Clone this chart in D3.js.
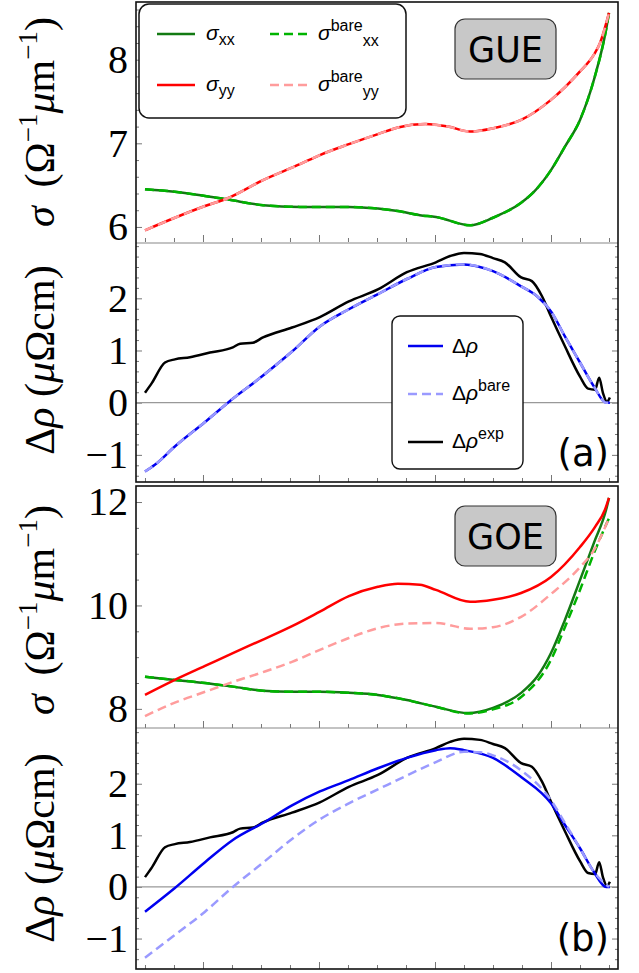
<!DOCTYPE html>
<html>
<head>
<meta charset="utf-8">
<script src="https://cdn.jsdelivr.net/npm/d3@7"></script>
<style>
html, body { margin: 0; padding: 0; background: #fff; }
svg { display: block; }
.serif { font-family: 'Liberation Serif', 'Times New Roman', 'DejaVu Serif', serif; }
</style>
</head>
<body>
<svg id="chart" width="639" height="973"></svg>
<script>
'use strict';

// x positions of the bottom ticks (no labels in the original)
const xTicks = d3.range(0, 17);
const xMajor = [2, 6, 10, 14];

// (a) GUE, conductivities
const sxxGUE = [[0,6.45],[1.03,6.42],[2.07,6.37],[2.83,6.33],[4.07,6.26],[5.34,6.24],[6.03,6.24],[7.03,6.24],[8.03,6.22],[8.72,6.19],[9.48,6.14],[10.03,6.12],[11.21,6.02],[12.0,6.11],[12.97,6.29],[13.41,6.42],[14.0,6.68],[14.48,6.96],[15.0,7.28],[15.48,7.76],[15.9,8.36],[16.0,8.56]];
const syyGUE = [[0,5.96],[1.03,6.11],[2.07,6.25],[2.83,6.34],[4.07,6.56],[5.34,6.75],[6.03,6.86],[7.03,6.99],[8.03,7.11],[8.72,7.19],[9.66,7.23],[10.45,7.20],[11.21,7.14],[12.0,7.18],[12.97,7.28],[14.0,7.52],[15.0,7.86],[15.48,8.06],[15.69,8.2],[16.0,8.56]];
const sbxxGUE = sxxGUE;
const sbyyGUE = syyGUE;

// (a) GUE, resistivity change
const drhoGUE = [[0,-1.32],[0.34,-1.19],[1.03,-0.84],[2.07,-0.37],[2.86,0.0],[4.07,0.52],[5.07,0.98],[6.03,1.46],[7.03,1.79],[8.03,2.08],[9.03,2.37],[10.03,2.60],[11.0,2.65],[12.0,2.52],[12.97,2.23],[13.52,2.04],[14.0,1.75],[14.48,1.27],[15.0,0.77],[15.48,0.31],[15.9,0.0],[16.03,0.0]];
const drhoBareGUE = drhoGUE;
const drhoExp = [[0,0.19],[0.24,0.38],[0.69,0.77],[1.03,0.83],[1.55,0.87],[2.24,0.96],[3.03,1.06],[3.28,1.13],[3.72,1.15],[4.07,1.25],[5.07,1.44],[6.03,1.64],[7.03,1.94],[8.03,2.17],[9.03,2.50],[10.03,2.69],[10.52,2.81],[11.0,2.87],[11.55,2.85],[12.0,2.77],[12.41,2.69],[12.97,2.40],[13.34,2.33],[13.69,2.04],[14.0,1.65],[14.48,1.08],[15.0,0.50],[15.28,0.27],[15.52,0.25],[15.66,0.48],[15.79,0.19],[15.93,0.02],[16.03,0.1]];

// (b) GOE, conductivities
const sxxGOE = [[0,8.62],[1.03,8.56],[2.07,8.50],[3.03,8.43],[4.07,8.35],[5.07,8.33],[6.03,8.33],[7.03,8.31],[8.03,8.27],[9.03,8.17],[10.03,8.04],[11.14,7.92],[12.0,8.02],[12.97,8.31],[13.52,8.62],[14.0,9.08],[14.48,9.72],[15.0,10.49],[15.48,11.21],[15.9,11.85],[16.0,12.08]];
const syyGOE = [[0,8.27],[1.03,8.56],[2.07,8.83],[3.03,9.08],[4.07,9.34],[5.07,9.60],[6.03,9.88],[7.03,10.18],[8.03,10.36],[8.72,10.42],[9.48,10.40],[10.03,10.30],[11.21,10.07],[12.0,10.11],[12.97,10.24],[14.0,10.55],[15.0,11.13],[15.52,11.52],[15.86,11.85],[16.0,12.08]];
const sbxxGOE = [[0,8.62],[1.03,8.56],[2.07,8.50],[3.03,8.43],[4.07,8.35],[5.07,8.33],[6.03,8.33],[7.03,8.31],[8.03,8.27],[9.03,8.17],[10.03,8.04],[11.14,7.91],[12.0,7.99],[12.97,8.23],[14.0,8.95],[14.48,9.58],[15.0,10.30],[15.48,11.01],[16.0,11.69]];
const sbyyGOE = [[0,7.86],[1.03,8.12],[2.07,8.33],[3.03,8.52],[4.07,8.71],[5.07,8.91],[6.03,9.14],[7.03,9.37],[8.03,9.56],[9.03,9.65],[10.03,9.66],[11.21,9.55],[12.0,9.58],[12.97,9.78],[14.0,10.22],[15.0,10.74],[15.48,11.07],[16.0,11.69]];

// (b) GOE, resistivity change
const drhoGOE = [[0,-0.48],[1.03,-0.02],[2.07,0.48],[3.03,0.91],[4.07,1.24],[5.07,1.58],[6.03,1.85],[7.03,2.07],[8.03,2.30],[9.03,2.50],[10.03,2.65],[10.52,2.69],[11.0,2.65],[12.0,2.50],[12.97,2.13],[14.0,1.62],[14.48,1.20],[15.0,0.75],[15.48,0.29],[15.9,0.0],[16.03,0.0]];
const drhoBareGOE = [[0,-1.37],[1.03,-0.93],[2.07,-0.48],[3.03,0.0],[4.07,0.47],[5.07,0.93],[6.03,1.31],[7.03,1.62],[8.03,1.89],[9.03,2.16],[10.03,2.42],[11.0,2.62],[11.55,2.61],[12.0,2.55],[12.97,2.26],[14.0,1.68],[14.48,1.24],[15.0,0.75],[15.48,0.29],[16.0,0.0]];

// y tick labels per panel
const sigmaTicksA = [6, 7, 8];
const sigmaTicksB = [8, 10, 12];
const rhoTicks = [-1, 0, 1, 2];

const svg = d3.select('#chart');
const sans = "'Liberation Sans', Arial, sans-serif";
const round = "'DejaVu Sans', sans-serif";

const x = d3.scaleLinear().domain([-0.31, 16.31]).range([136, 618]);

const green = '#137a13', greenBare = '#00b400';
const red = '#ff0000', redBare = '#ff9c9c';
const blue = '#0000f0', blueBare = '#9a9aff';
const dash = '9,5';

function drawLine(y, data, color, dashes) {
    svg.append('path')
        .datum(data)
        .attr('fill', 'none')
        .attr('stroke', color)
        .attr('stroke-width', 2.5)
        .attr('stroke-linejoin', 'round')
        .attr('stroke-dasharray', dashes || null)
        .attr('d', d3.line().x(d => x(d[0])).y(d => y(d[1])).curve(d3.curveMonotoneX));
}

function styleTicks(g) {
    g.select('.domain').remove();
    g.selectAll('.tick line').attr('stroke', '#777').attr('stroke-width', 1);
}

// ticks and labels for one panel
function drawAxes(y, bottom, labels, minorStep, rightTicks, zeroLine) {
    const [lo, hi] = y.domain();
    const minors = d3.range(Math.ceil(lo / minorStep) * minorStep, hi, minorStep)
        .filter(v => !labels.some(l => Math.abs(l - v) < 1e-6));

    svg.append('g').attr('transform', `translate(0,${bottom})`)
        .call(d3.axisBottom(x).tickValues(xTicks.filter(v => !xMajor.includes(v))).tickSize(-4).tickFormat(''))
        .call(styleTicks);
    svg.append('g').attr('transform', `translate(0,${bottom})`)
        .call(d3.axisBottom(x).tickValues(xMajor).tickSize(-7).tickFormat(''))
        .call(styleTicks);

    svg.append('g').attr('transform', 'translate(136,0)')
        .call(d3.axisLeft(y).tickValues(minors).tickSize(-3).tickFormat(''))
        .call(styleTicks);
    const gl = svg.append('g').attr('transform', 'translate(136,0)')
        .call(d3.axisLeft(y).tickValues(labels).tickSize(-6).tickPadding(8).tickFormat(d => d < 0 ? '\u2212' + Math.abs(d) : d))
        .call(styleTicks);
    gl.attr('font-family', null).attr('font-size', null);
    gl.selectAll('text')
        .attr('class', 'serif')
        .style('font-size', '40px')
        .attr('fill', '#000');

    if (rightTicks) {
        svg.append('g').attr('transform', 'translate(618,0)')
            .call(d3.axisRight(y).tickValues(minors).tickSize(-3).tickFormat(''))
            .call(styleTicks);
        svg.append('g').attr('transform', 'translate(618,0)')
            .call(d3.axisRight(y).tickValues(labels).tickSize(-6).tickFormat(''))
            .call(styleTicks);
    }
    if (zeroLine) {
        svg.append('line')
            .attr('x1', 136).attr('x2', 618)
            .attr('y1', y(0)).attr('y2', y(0))
            .attr('stroke', '#999').attr('stroke-width', 1.2);
    }
}

function sigmaLabel(cy) {
    const t = svg.append('text')
        .attr('class', 'serif')
        .attr('transform', `translate(54,${cy}) rotate(-90)`)
        .attr('text-anchor', 'middle')
        .style('font-size', '42px');
    t.append('tspan').attr('font-style', 'italic').text('\u03c3');
    t.append('tspan').text('\u2009 (\u03a9');
    t.append('tspan').style('font-size', '27px').attr('dy', -17).text('\u22121');
    t.append('tspan').attr('dy', 17).attr('font-style', 'italic').text('\u03bc');
    t.append('tspan').text('m');
    t.append('tspan').style('font-size', '27px').attr('dy', -17).text('\u22121');
    t.append('tspan').attr('dy', 17).text(')');
}

function rhoLabel(cy) {
    const t = svg.append('text')
        .attr('class', 'serif')
        .attr('transform', `translate(54,${cy}) rotate(-90)`)
        .attr('text-anchor', 'middle')
        .style('font-size', '42px');
    t.append('tspan').text('\u0394');
    t.append('tspan').attr('font-style', 'italic').text('\u03c1');
    t.append('tspan').text(' (');
    t.append('tspan').attr('font-style', 'italic').text('\u03bc');
    t.append('tspan').text('\u03a9cm)');
}

function ensembleBox(label, bx, by) {
    svg.append('rect')
        .attr('x', bx).attr('y', by).attr('width', 101).attr('height', 60).attr('rx', 10)
        .attr('fill', '#c8c8c8').attr('stroke', '#333').attr('stroke-width', 1.2);
    svg.append('text')
        .attr('x', bx + 50.5).attr('y', by + 43)
        .attr('text-anchor', 'middle')
        .attr('font-family', round)
        .attr('font-size', 35)
        .text(label);
}

function panelTag(label, ty) {
    svg.append('text')
        .attr('x', 609).attr('y', ty)
        .attr('text-anchor', 'end')
        .attr('font-family', round)
        .attr('font-size', 37)
        .text(label);
}

function legendLine(x1, x2, ly, color, dashes) {
    svg.append('line')
        .attr('x1', x1).attr('x2', x2).attr('y1', ly).attr('y2', ly)
        .attr('stroke', color).attr('stroke-width', 2.5)
        .attr('stroke-dasharray', dashes || null);
}

function sigmaEntry(tx, ty, sub, bare) {
    const t = svg.append('text').attr('x', tx).attr('y', ty)
        .attr('font-family', sans).attr('font-size', 21);
    t.append('tspan').attr('font-style', 'italic').text('\u03c3');
    if (bare) {
        t.append('tspan').attr('font-size', 16).attr('dy', -9).text('bare');
        t.append('tspan').attr('font-size', 16).attr('dy', 15).text(sub);
    } else {
        t.append('tspan').attr('font-size', 16).attr('dy', 5).text(sub);
    }
}

function rhoEntry(tx, ty, sup) {
    const t = svg.append('text').attr('x', tx).attr('y', ty)
        .attr('font-family', sans).attr('font-size', 21);
    t.append('tspan').text('\u0394');
    t.append('tspan').attr('font-style', 'italic').text('\u03c1');
    if (sup) t.append('tspan').attr('font-size', 16).attr('dy', -9).text(sup);
}

// ---------- panel (a) top: GUE sigma ----------
const yA1 = d3.scaleLinear().domain([5.82, 8.69]).range([242, 2]);
drawAxes(yA1, 242, sigmaTicksA, 0.2, false, false);
drawLine(yA1, sxxGUE, green);
drawLine(yA1, sbxxGUE, greenBare, dash);
drawLine(yA1, syyGUE, red);
drawLine(yA1, sbyyGUE, redBare, dash);
sigmaLabel(122);

// ---------- panel (a) bottom: GUE delta rho ----------
const yA2 = d3.scaleLinear().domain([-1.52, 3.06]).range([482, 243]);
drawAxes(yA2, 482, rhoTicks, 0.2, true, true);
drawLine(yA2, drhoExp, '#000');
drawLine(yA2, drhoGUE, blue);
drawLine(yA2, drhoBareGUE, blueBare, dash);
rhoLabel(360);

// ---------- panel (b) top: GOE sigma ----------
const yB1 = d3.scaleLinear().domain([7.63, 12.31]).range([728, 486]);
drawAxes(yB1, 728, sigmaTicksB, 0.5, false, false);
drawLine(yB1, sxxGOE, green);
drawLine(yB1, sbxxGOE, greenBare, dash);
drawLine(yB1, syyGOE, red);
drawLine(yB1, sbyyGOE, redBare, dash);
sigmaLabel(610);

// ---------- panel (b) bottom: GOE delta rho ----------
const yB2 = d3.scaleLinear().domain([-1.59, 3.08]).range([969, 728]);
drawAxes(yB2, 969, rhoTicks, 0.2, true, true);
drawLine(yB2, drhoExp, '#000');
drawLine(yB2, drhoGOE, blue);
drawLine(yB2, drhoBareGOE, blueBare, dash);
rhoLabel(848);

// frames
[[2, 482, 243], [486, 969, 728]].forEach(([t, b, mid]) => {
    svg.append('line').attr('x1', 136).attr('x2', 618).attr('y1', mid).attr('y2', mid)
        .attr('stroke', '#888').attr('stroke-width', 1.2);
    svg.append('rect').attr('x', 136).attr('y', t).attr('width', 482).attr('height', b - t)
        .attr('fill', 'none').attr('stroke', '#111').attr('stroke-width', 1.6);
});

// legend of the sigma panel
svg.append('rect').attr('x', 139).attr('y', 4).attr('width', 267).attr('height', 114).attr('rx', 10)
    .attr('fill', '#fff').attr('stroke', '#111').attr('stroke-width', 1.5);
legendLine(157, 195, 34, green);
sigmaEntry(206, 40, 'xx', false);
legendLine(157, 195, 85, red);
sigmaEntry(206, 91, 'yy', false);
legendLine(270, 310, 34, greenBare, dash);
sigmaEntry(318, 40, 'xx', true);
legendLine(270, 310, 85, redBare, dash);
sigmaEntry(318, 91, 'yy', true);

// legend of the delta rho panel
svg.append('rect').attr('x', 392).attr('y', 316).attr('width', 131).attr('height', 153).attr('rx', 8)
    .attr('fill', '#fff').attr('stroke', '#111').attr('stroke-width', 1.4);
legendLine(408, 443, 346, blue);
rhoEntry(452, 353, null);
legendLine(408, 443, 394, blueBare, dash);
rhoEntry(452, 400, 'bare');
legendLine(408, 443, 442, '#000');
rhoEntry(452, 448, 'exp');

ensembleBox('GUE', 455, 19);
ensembleBox('GOE', 455, 506);
panelTag('(a)', 466);
panelTag('(b)', 951);
</script>
</body>
</html>
